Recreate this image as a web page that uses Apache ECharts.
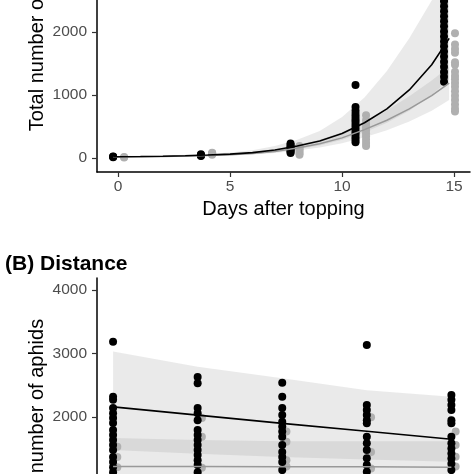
<!DOCTYPE html>
<html>
<head>
<meta charset="utf-8">
<script src="https://cdn.jsdelivr.net/npm/echarts@6/dist/echarts.min.js"></script>
<style>
html,body{margin:0;padding:0;background:#fff;}
#c{width:474px;height:474px;}
</style>
</head>
<body>
<div id="c"></div>
<script>
// ---------- Panel A: days after topping ----------
const aBlackX = [-0.22, 3.7, 7.7, 10.6, 14.55];
const aBlackVals = [
  [12, 20, 26],
  [30, 40, 48, 58],
  [80, 100, 118, 140, 162, 180, 205, 230],
  [250, 290, 330, 372, 410, 450, 492, 530, 575, 610, 655, 700, 750, 810, 1160],
  [1210, 1290, 1365, 1450, 1530, 1610, 1690, 1775, 1850, 1930, 2010, 2090, 2170, 2250, 2330, 2410, 2490, 2600, 2750]
];
const aGrayX = [0.27, 4.2, 8.1, 11.07, 15.04];
const aGrayVals = [
  [8, 15],
  [50, 62, 75, 85],
  [50, 80, 110, 140, 168, 190],
  [190, 240, 290, 340, 390, 440, 490, 540, 600, 680],
  [740, 780, 850, 920, 990, 1060, 1130, 1190, 1250, 1300, 1370, 1480, 1520, 1670, 1730, 1800, 1980]
];
const aFitX     = [-0.22, 1, 2, 3, 4, 5, 6, 7, 8, 9, 10, 11, 12, 13, 14, 14.78];
const aBlackFit = [20, 24, 29, 36, 47, 62, 85, 128, 190, 270, 390, 560, 780, 1080, 1480, 1900];
const aBlackLo  = [13, 16, 20, 26, 34, 45, 62, 92, 140, 200, 290, 410, 560, 750, 1000, 1250];
const aBlackHi  = [30, 34, 40, 50, 65, 88, 125, 190, 290, 430, 650, 960, 1380, 1900, 2500, 2950];
const aGrayFit  = [15, 19, 24, 30, 40, 53, 72, 105, 160, 225, 320, 450, 600, 780, 990, 1190];
const aGrayLo   = [10, 13, 17, 22, 30, 40, 54, 78, 118, 165, 235, 330, 440, 580, 750, 920];
const aGrayHi   = [21, 26, 33, 41, 54, 70, 95, 138, 205, 290, 410, 570, 760, 980, 1230, 1450];
const aXTicks = [0, 5, 10, 15];
const aYTicks = [0, 1000, 2000];

// ---------- Panel B: distance ----------
const bBlackX = [1, 2, 3, 4, 5];
const bBlackVals = [
  [3185, 2320, 2270, 2140, 2060, 1985, 1905, 1795, 1715, 1640, 1560, 1480, 1370, 1290, 1210, 1130, 1050, 950, 820],
  [2630, 2530, 2140, 2060, 1950, 1795, 1715, 1640, 1560, 1480, 1400, 1320, 1245, 1130, 1020, 900],
  [2540, 2320, 2140, 2030, 1925, 1850, 1770, 1690, 1560, 1450, 1370, 1290, 1165, 1050, 900],
  [3135, 2190, 2110, 2030, 1950, 1900, 1690, 1585, 1480, 1350, 1245, 1140, 1020, 880],
  [2345, 2270, 2190, 2110, 1950, 1900, 1690, 1585, 1505, 1425, 1345, 1265, 1165, 1050, 920]
];
const bGrayX = [1.05, 2.05, 3.05, 4.05, 5.05];
const bGrayVals = [
  [1530, 1370, 1210, 1000, 800],
  [1985, 1690, 1200, 950],
  [1770, 1610, 1320, 1220, 980],
  [1995, 1450, 1190, 960],
  [1770, 1560, 1375, 1220, 990]
];
const bFitX     = [1, 2, 3, 4, 5];
const bBlackFit = [2160, 2030, 1900, 1775, 1650];
const bBlackLo  = [1480, 1420, 1370, 1330, 1295];
const bBlackHi  = [3030, 2790, 2610, 2420, 2320];
const bGrayFit  = [1220, 1220, 1215, 1215, 1210];
const bGrayLo   = [850, 860, 860, 850, 840];
const bGrayHi   = [1670, 1640, 1620, 1620, 1620];
const bYTicks = [2000, 3000, 4000];

const FONT = "'Liberation Sans', Arial, Helvetica, sans-serif";
const BLACK = '#000000';
const GRAY_PT = '#b0b0b0';
const GRAY_LN = '#999999';
const RIBBON = 'rgba(150,150,150,0.2)';
const PT = 8;

function pts(xs, vals) {
  const out = [];
  xs.forEach((x, i) => vals[i].forEach(v => out.push([x, v])));
  return out;
}
function pairs(xs, ys) { return xs.map((x, i) => [x, ys[i]]); }
function ribbon(xs, lo, hi, gi) {
  return {
    type: 'custom', xAxisIndex: gi, yAxisIndex: gi, silent: true, z: 1,
    data: [[xs[0], lo[0]]],
    renderItem: function (params, api) {
      const up = xs.map((x, i) => api.coord([x, hi[i]]));
      const dn = xs.map((x, i) => api.coord([x, lo[i]])).reverse();
      const cs = params.coordSys;
      return {
        type: 'polygon',
        shape: { points: up.concat(dn) },
        style: { fill: RIBBON, stroke: null },
        clipPath: { type: 'rect', shape: { x: cs.x, y: cs.y, width: cs.width, height: cs.height } }
      };
    }
  };
}
const fmt = v => String(v);

function xAxisCfg(gi, min, max, ticks, name) {
  return {
    type: 'value', gridIndex: gi, min: min, max: max,
    splitLine: { show: false },
    axisLine: { show: true, onZero: false, lineStyle: { color: BLACK, width: 1.5 } },
    axisTick: { show: true, length: 5, lineStyle: { color: '#333', width: 1.2 }, customValues: ticks },
    axisLabel: { show: ticks.length > 0, customValues: ticks, formatter: fmt, color: '#4d4d4d', fontSize: 15.5, fontFamily: FONT, margin: 7 },
    name: name, nameLocation: 'middle', nameGap: 27, nameMoveOverlap: false,
    nameTextStyle: { color: BLACK, fontSize: 20, fontFamily: FONT }
  };
}
function yAxisCfg(gi, min, max, ticks) {
  return {
    type: 'value', gridIndex: gi, min: min, max: max,
    splitLine: { show: false },
    axisLine: { show: true, onZero: false, lineStyle: { color: BLACK, width: 1.5 } },
    axisTick: { show: true, length: 5, lineStyle: { color: '#333', width: 1.2 }, customValues: ticks },
    axisLabel: { customValues: ticks, formatter: fmt, color: '#4d4d4d', fontSize: 15.5, fontFamily: FONT, margin: 10 },
    name: 'Total number of aphids', nameLocation: 'middle', nameGap: 50, nameMoveOverlap: false,
    nameTextStyle: { color: BLACK, fontSize: 20, fontFamily: FONT }
  };
}

const chart = echarts.init(document.getElementById('c'), null, { renderer: 'canvas' });
const series = [];
// Panel A
series.push(ribbon(aFitX, aBlackLo, aBlackHi, 0));
series.push(ribbon(aFitX, aGrayLo, aGrayHi, 0));
series.push({ type: 'scatter', xAxisIndex: 0, yAxisIndex: 0, symbolSize: PT, z: 2,
  itemStyle: { color: GRAY_PT, opacity: 1 }, data: pts(aGrayX, aGrayVals) });
series.push({ type: 'scatter', xAxisIndex: 0, yAxisIndex: 0, symbolSize: PT, z: 3,
  itemStyle: { color: BLACK, opacity: 1 }, data: pts(aBlackX, aBlackVals) });
series.push({ type: 'line', xAxisIndex: 0, yAxisIndex: 0, symbol: 'none', z: 4,
  lineStyle: { color: GRAY_LN, width: 1.5 }, data: pairs(aFitX, aGrayFit) });
series.push({ type: 'line', xAxisIndex: 0, yAxisIndex: 0, symbol: 'none', z: 5,
  lineStyle: { color: BLACK, width: 1.6 }, data: pairs(aFitX, aBlackFit) });
// Panel B
series.push(ribbon(bFitX, bBlackLo, bBlackHi, 1));
series.push(ribbon(bFitX, bGrayLo, bGrayHi, 1));
series.push({ type: 'scatter', xAxisIndex: 1, yAxisIndex: 1, symbolSize: PT, z: 2,
  itemStyle: { color: GRAY_PT, opacity: 1 }, data: pts(bGrayX, bGrayVals) });
series.push({ type: 'scatter', xAxisIndex: 1, yAxisIndex: 1, symbolSize: PT, z: 3,
  itemStyle: { color: BLACK, opacity: 1 }, data: pts(bBlackX, bBlackVals) });
series.push({ type: 'line', xAxisIndex: 1, yAxisIndex: 1, symbol: 'none', z: 4,
  lineStyle: { color: GRAY_LN, width: 1.5 }, data: pairs(bFitX, bGrayFit) });
series.push({ type: 'line', xAxisIndex: 1, yAxisIndex: 1, symbol: 'none', z: 5,
  lineStyle: { color: BLACK, width: 1.6 }, data: pairs(bFitX, bBlackFit) });

chart.setOption({
  animation: false,
  backgroundColor: '#ffffff',
  title: { text: '(B) Distance', left: 5, top: 254, padding: 0,
    textStyle: { color: BLACK, fontSize: 21, fontWeight: 'bold', fontFamily: FONT } },
  grid: [
    { left: 97, right: 4, top: -112, height: 284, containLabel: false, outerBoundsMode: 'none' },
    { left: 97, right: 4, top: 278, height: 284, containLabel: false, outerBoundsMode: 'none' }
  ],
  xAxis: [
    xAxisCfg(0, -0.94, 15.71, aXTicks, 'Days after topping'),
    Object.assign(xAxisCfg(1, 0.81, 5.22, [], ''), { axisLabel: { show: false } })
  ],
  yAxis: [
    yAxisCfg(0, -222, 4286, aYTicks),
    yAxisCfg(1, -283, 4189, bYTicks)
  ],
  series: series
});
</script>
</body>
</html>
